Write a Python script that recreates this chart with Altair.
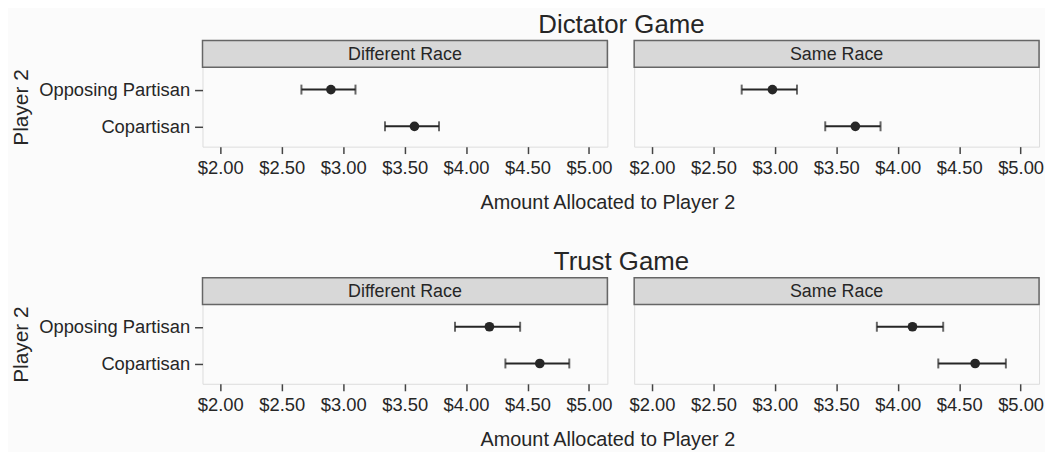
import altair as alt
import pandas as pd

games = ["Dictator Game"] * 4 + ["Trust Game"] * 4
races = ["Different Race", "Different Race", "Same Race", "Same Race"] * 2
player2 = ["Opposing Partisan", "Copartisan"] * 4
means = [2.90, 3.58, 2.98, 3.655, 4.19, 4.60, 4.12, 4.63]
lows = [2.66, 3.34, 2.73, 3.41, 3.91, 4.32, 3.83, 4.33]
highs = [3.10, 3.78, 3.18, 3.86, 4.44, 4.84, 4.37, 4.88]
game_order = ["Dictator Game", "Trust Game"]
race_order = ["Different Race", "Same Race"]
p2_order = ["Opposing Partisan", "Copartisan"]
x_ticks = [2.0, 2.5, 3.0, 3.5, 4.0, 4.5, 5.0]

df = pd.DataFrame({"game": games, "race": races, "player2": player2,
                   "mean": means, "low": lows, "high": highs})

W = 408
H = 107
STRIP = 27
FONT = "Liberation Sans"
DARK = "#262626"

xscale = alt.Scale(domain=[1.855, 5.15], nice=False, zero=False)
yscale = alt.Scale(type="point", domain=p2_order, range=[49.5, 86.5], padding=0)


def panel(game, race, show_y):
    sub = df[(df.game == game) & (df.race == race)]
    base = alt.Chart(sub)
    axis_kw = dict(values=x_ticks, format="$.2f", grid=False, domain=False,
                   tickSize=7, tickColor="#444", tickWidth=1.5,
                   labelFontSize=18.5, labelColor=DARK, labelFont=FONT,
                   labelPadding=5)
    if show_y:
        xaxis = alt.Axis(title="Amount Allocated to Player 2", titleX=W,
                         titleY=56, titleAlign="center", titleBaseline="middle",
                         titleFontSize=20, titleFont=FONT, titleColor=DARK,
                         titleFontWeight="normal", **axis_kw)
        yaxis = alt.Axis(title="Player 2", grid=False, domain=False, tickSize=8,
                         tickColor="#444", tickWidth=1.5, labelFontSize=18.5,
                         labelColor=DARK, labelFont=FONT, labelPadding=5,
                         titleFontSize=21, titleFont=FONT, titleColor=DARK,
                         titleFontWeight="normal", titlePadding=7, titleY=67)
    else:
        xaxis = alt.Axis(title=None, **axis_kw)
        yaxis = None
    y = alt.Y("player2:N", scale=yscale, axis=yaxis, sort=p2_order)
    rules = base.mark_rule(color=DARK, strokeWidth=2).encode(
        x=alt.X("low:Q", scale=xscale, axis=xaxis), x2="high:Q", y=y)
    cap_lo = base.mark_tick(color=DARK, size=10, thickness=2).encode(
        x=alt.X("low:Q", scale=xscale), y=y)
    cap_hi = base.mark_tick(color=DARK, size=10, thickness=2).encode(
        x=alt.X("high:Q", scale=xscale), y=y)
    pts = base.mark_circle(color=DARK, size=95, opacity=1).encode(
        x=alt.X("mean:Q", scale=xscale), y=y)
    strip_df = pd.DataFrame({"race": [race]})
    strip = alt.Chart(strip_df).mark_rect(fill="#d8d8d8", stroke="#666",
                                          strokeWidth=1.5).encode(
        x=alt.value(0), x2=alt.value(W), y=alt.value(0), y2=alt.value(STRIP))
    strip_txt = alt.Chart(strip_df).mark_text(fontSize=18, font=FONT, color=DARK,
                                              baseline="middle").encode(
        x=alt.value(W / 2), y=alt.value(STRIP / 2 + 1), text="race:N")
    return alt.layer(strip, strip_txt, rules, cap_lo, cap_hi, pts).properties(
        width=W, height=H)


def game_block(game):
    return alt.hconcat(panel(game, race_order[0], True),
                       panel(game, race_order[1], False), spacing=27,
                       bounds="flush").properties(
        title=alt.TitleParams(game, anchor="middle", frame="bounds", fontSize=26,
                              font=FONT, color=DARK, fontWeight="normal",
                              offset=1, dx=95))


chart = alt.vconcat(game_block(game_order[0]), game_block(game_order[1]),
                    spacing=36).configure_view(
    stroke="#8c8c8c", strokeWidth=1.5, fill="white").configure(
    background="#fbfbfb", padding={"left": 2, "top": 2, "right": 0, "bottom": 0})

chart.save("out.html", embed_options={"renderer": "svg", "actions": False})
